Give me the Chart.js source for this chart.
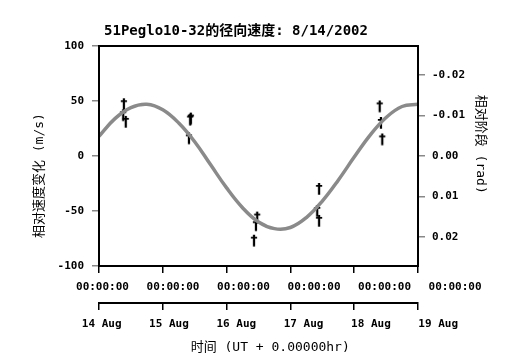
<!DOCTYPE html>
<html>
<head>
<meta charset="utf-8">
<script src="https://cdn.jsdelivr.net/npm/chart.js@4.4.0/dist/chart.umd.min.js"></script>
<style>
  html, body { margin: 0; padding: 0; background: #fff; }
  #wrap { width: 515px; height: 363px; }
</style>
</head>
<body>
<div id="wrap"><canvas id="chart1"></canvas></div>
<script>
// days after 14 Aug 2002 00:00 UT
var fitDays = [0, 0.25, 0.5, 0.75, 1, 1.25, 1.5, 1.75, 2, 2.25, 2.5, 2.75, 3, 3.25, 3.5, 3.75, 4, 4.25, 4.5, 4.75, 5];
var fitVelocity = [18, 34, 44, 47, 42, 30, 13, -8, -29, -47, -60, -66, -65, -56, -41, -22, -1, 19, 35, 45, 47];

var obsDays = [0.39, 0.38, 0.42, 1.43, 1.44, 1.41, 2.48, 2.46, 2.43, 3.45, 3.42, 3.45, 4.40, 4.42, 4.44];
var obsVelocity = [47, 37, 31, 33, 34, 16, -56, -63, -77, -30, -50, -59, 45, 30, 15];

var timeLabels = ['00:00:00', '00:00:00', '00:00:00', '00:00:00', '00:00:00', '00:00:00'];
var dateLabels = ['14 Aug', '15 Aug', '16 Aug', '17 Aug', '18 Aug', '19 Aug'];

var monoFont = "'DejaVu Sans Mono', 'Noto Sans CJK SC', monospace";
Chart.defaults.font.family = monoFont;
Chart.defaults.color = '#000';

function makeDagger() {
    var c = document.createElement('canvas');
    c.width = 10;
    c.height = 16;
    var g = c.getContext('2d');
    g.fillStyle = '#000';
    g.font = 'bold 14px "DejaVu Sans"';
    g.textAlign = 'center';
    g.textBaseline = 'middle';
    g.fillText('\u2020', 5, 8);
    return c;
}

var dagger = makeDagger();

var boxAndTitle = {
    id: 'boxAndTitle',
    afterDraw: function (chart) {
        var ctx = chart.ctx;
        var a = chart.chartArea;
        ctx.save();
        ctx.strokeStyle = '#000';
        ctx.lineWidth = 2;
        ctx.strokeRect(a.left, a.top, a.right - a.left, a.bottom - a.top);
        ctx.fillStyle = '#000';
        ctx.font = 'bold 14px ' + monoFont;
        ctx.textAlign = 'center';
        ctx.textBaseline = 'middle';
        ctx.fillText('51Peglo10-32的径向速度: 8/14/2002', 236, 31);
        ctx.restore();
    }
};

var tickFont = { size: 11, weight: 'bold' };

new Chart(document.getElementById('chart1'), {
    data: {
        datasets: [{
            type: 'line',
            data: fitDays.map(function (d, i) { return { x: d, y: fitVelocity[i] }; }),
            borderColor: '#8a8a8a',
            borderWidth: 3.5,
            pointRadius: 0,
            tension: 0.4,
            xAxisID: 'x',
            yAxisID: 'y'
        }, {
            type: 'scatter',
            data: obsDays.map(function (d, i) { return { x: d, y: obsVelocity[i] }; }),
            pointStyle: dagger,
            xAxisID: 'x',
            yAxisID: 'y'
        }]
    },
    options: {
        responsive: true,
        maintainAspectRatio: false,
        animation: false,
        layout: { padding: { left: 30, right: 27, top: 46, bottom: 7 } },
        plugins: { legend: { display: false }, tooltip: { enabled: false } },
        scales: {
            x: {
                type: 'linear', position: 'bottom', min: 0, max: 5,
                border: { display: true, color: '#000', width: 2 },
                grid: { drawOnChartArea: false, tickLength: 7, color: '#000', lineWidth: 1.5 },
                ticks: { display: false, stepSize: 1 },
                afterFit: function (s) { s.height = 7; }
            },
            xLab1: {
                type: 'linear', position: 'bottom', min: -0.0496, max: 4.475,
                border: { display: false },
                grid: { display: false },
                ticks: {
                    padding: 0, autoSkip: false, maxRotation: 0, font: tickFont,
                    callback: function (v) { return timeLabels[v]; }
                },
                afterBuildTicks: function (s) { s.ticks = timeLabels.map(function (t, i) { return { value: i }; }); },
                afterFit: function (s) { s.height = 30; }
            },
            x2: {
                type: 'linear', position: 'bottom', min: 0, max: 5,
                border: { display: true, color: '#000', width: 2 },
                grid: { drawOnChartArea: false, tickLength: 7, color: '#000', lineWidth: 1.5 },
                ticks: { display: false, stepSize: 1 },
                afterFit: function (s) { s.height = 7; }
            },
            xLab2: {
                type: 'linear', position: 'bottom', min: -0.040, max: 4.700,
                border: { display: false },
                grid: { display: false },
                ticks: {
                    padding: 0, autoSkip: false, maxRotation: 0, font: tickFont,
                    callback: function (v) { return dateLabels[v]; }
                },
                afterBuildTicks: function (s) { s.ticks = dateLabels.map(function (t, i) { return { value: i }; }); },
                title: {
                    display: true, text: '   时间 (UT + 0.00000hr)',
                    font: { size: 13 }, padding: { top: 0, bottom: 1 }
                },
                afterFit: function (s) { s.height = 46; }
            },
            y: {
                position: 'left', min: -100, max: 100,
                border: { display: true, color: '#000', width: 2 },
                grid: { drawOnChartArea: false, tickLength: 7, color: '#888', lineWidth: 1.5 },
                ticks: { stepSize: 50, padding: 8, font: tickFont },
                title: {
                    display: true, text: '相对速度变化 (m/s)     ',
                    font: { size: 13 }, padding: { top: 2, bottom: 0 }
                },
                afterFit: function (s) { s.width = 69; }
            },
            y2: {
                position: 'right', reverse: true, min: -0.02716, max: 0.02716,
                border: { display: true, color: '#000', width: 2 },
                grid: { drawOnChartArea: false, tickLength: 7, color: '#888', lineWidth: 1.5 },
                ticks: {
                    stepSize: 0.01, includeBounds: false, padding: 7, font: tickFont,
                    callback: function (v) { return (Math.abs(v) < 1e-9 ? 0 : v).toFixed(2); }
                },
                title: {
                    display: true, text: '相对阶段 (rad)   ',
                    font: { size: 13 }, padding: { top: 0, bottom: 0 }
                },
                afterFit: function (s) { s.width = 70; }
            }
        }
    },
    plugins: [boxAndTitle]
});
</script>
</body>
</html>
